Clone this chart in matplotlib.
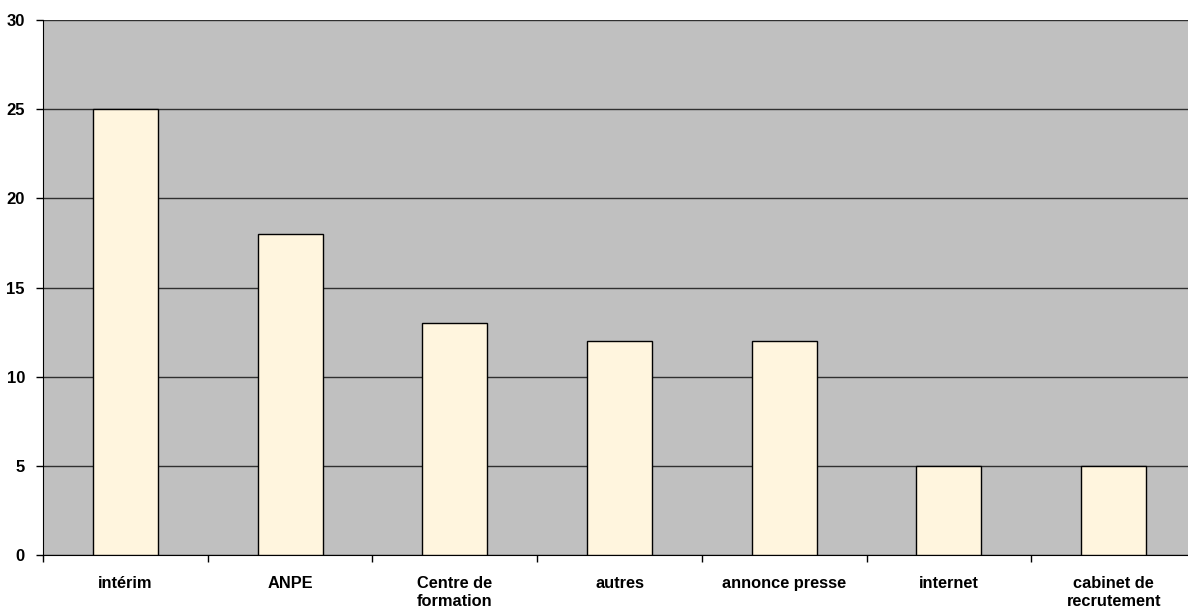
import matplotlib.pyplot as plt
import numpy as np

plt.rcParams['font.family'] = ['Liberation Sans', 'DejaVu Sans']

categories = ['intérim', 'ANPE', 'Centre de\nformation', 'autres',
              'annonce presse', 'internet', 'cabinet de\nrecrutement']
values = [25, 18, 13, 12, 12, 5, 5]
yticks = [0, 5, 10, 15, 20, 25, 30]

W, H = 1188, 609
fig = plt.figure(figsize=(W / 100, H / 100), dpi=100)
left, right, top, bottom = 43, 1196, 20, 555
ax = fig.add_axes([left / W, (H - bottom) / H, (right - left) / W, (bottom - top) / H])
ax.set_facecolor('#C0C0C0')

x = np.arange(len(categories))
ax.bar(x, values, width=65 / 165, color='#FFF5DE', edgecolor='black', linewidth=1, zorder=3)

ax.set_xlim(-0.5, len(categories) - 0.5)
ax.set_ylim(0, 30)
ax.set_yticks(yticks)
ax.set_yticklabels([str(v) for v in yticks], fontsize=12, fontweight='bold')
ax.yaxis.grid(True, color='#303030', linewidth=1, zorder=1)
ax.set_axisbelow(True)

# category labels centred, tick marks between categories
ax.set_xticks(np.arange(len(categories) + 1) - 0.5)
ax.set_xticklabels([])
ax.set_xticks(x, minor=True)
ax.set_xticklabels(categories, minor=True, fontsize=11.8, fontweight='bold', linespacing=1.3)
ax.tick_params(axis='x', which='minor', length=0, pad=15)
ax.tick_params(axis='x', which='major', length=5, width=1, direction='out')
ax.tick_params(axis='y', length=5, width=1, direction='out', pad=8)

for s in ['top', 'right']:
    ax.spines[s].set_visible(False)
ax.spines['left'].set_color('black')
ax.spines['bottom'].set_color('black')

fig.savefig('out.png', dpi=100, facecolor='white')
